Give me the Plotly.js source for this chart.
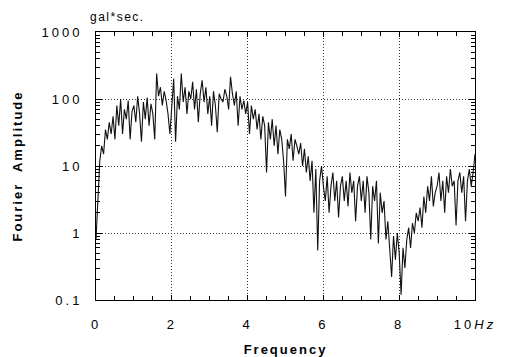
<!DOCTYPE html>
<html>
<head>
<meta charset="utf-8">
<script src="https://cdn.plot.ly/plotly-3.0.1.min.js"></script>
<style>
html,body{margin:0;padding:0;background:#fff;}
#chart{width:507px;height:357px;}
#chart .xtick text, #chart .ytick text{letter-spacing:3px;}
#chart text.xtitle, #chart text.ytitle{letter-spacing:2px;}
#chart .annotation-text{letter-spacing:1.5px;}
</style>
</head>
<body>
<div id="chart"></div>
<script>
// Frequency step of the read-off samples (Hz)
const freqStep = 0.05;
// Fourier amplitude (gal*sec), one value per 0.05 Hz from 0 to 10 Hz
const amplitude = [
  0.8, 4, 12, 20, 15, 35, 25, 45, 30, 55,
  25, 80, 40, 100, 30, 70, 50, 95, 25, 65,
  80, 45, 110, 60, 23, 90, 50, 105, 40, 85,
  60, 25, 240, 110, 150, 80, 130, 95, 60, 30,
  90, 200, 23, 110, 70, 240, 90, 150, 60, 130,
  100, 180, 70, 140, 45, 120, 190, 90, 150, 60,
  110, 40, 130, 80, 32, 120, 100, 90, 140, 110,
  70, 215, 120, 80, 130, 40, 110, 70, 95, 60,
  90, 30, 80, 50, 70, 35, 60, 25, 55, 40,
  8, 45, 25, 50, 20, 40, 15, 35, 25, 12,
  3.5, 25, 18, 30, 12, 25, 20, 15, 22, 10,
  18, 8, 14, 6, 12, 2, 9, 0.55, 6, 10,
  5, 3, 7, 2, 5, 8, 3, 6, 1.7, 5,
  7, 3, 6, 2.5, 8, 4, 6, 1.5, 5, 7,
  3, 6, 2, 7, 4, 0.8, 5, 3, 6, 0.7,
  4, 2, 3, 0.8, 1.5, 0.5, 0.22, 0.9, 0.4, 1,
  0.5, 0.12, 0.6, 0.3, 0.8, 1.2, 0.6, 1.4, 1, 2,
  1.5, 2.4, 1.2, 3.5, 2, 5, 3, 7, 2.5, 4,
  5, 8, 3, 6, 2, 7, 4, 9, 5, 6,
  1.3, 6, 8, 4, 7, 1.5, 6, 9, 5, 8,
  15
];
const frequency = amplitude.map((_, i) => +(i * freqStep).toFixed(2));

const xTickVals = [0, 2, 4, 6, 8, 10];
const xTickText = ['0', '2', '4', '6', '8', '10<i>Hz</i>'];
const yTickVals = [0.1, 1, 10, 100, 1000];
const yTickText = ['0.1', '1', '10', '100', '1000'];

const xMinor = [];
for (let v = 0.5; v < 10; v += 1) xMinor.push(+v.toFixed(2));
for (let v = 1; v < 10; v += 2) xMinor.push(v);
const yMinor = [];
[0.1, 1, 10, 100].forEach(d => { for (let k = 2; k <= 9; k++) yMinor.push(+(d * k).toPrecision(3)); });

const fam = '"Liberation Sans", Arial, sans-serif';

Plotly.newPlot('chart', [{
  x: frequency,
  y: amplitude,
  type: 'scatter',
  mode: 'lines',
  line: {color: '#111', width: 1.1},
  hoverinfo: 'skip'
}], {
  width: 507,
  height: 357,
  margin: {l: 96, r: 32, t: 32, b: 57},
  paper_bgcolor: '#fff',
  plot_bgcolor: '#fff',
  showlegend: false,
  font: {family: fam, size: 12, color: '#000'},
  xaxis: {
    range: [0, 10],
    tickmode: 'array',
    tickvals: xTickVals,
    ticktext: xTickText,
    ticks: 'inside',
    ticklen: 5,
    tickcolor: '#000',
    ticklabelstandoff: 12,
    showline: true,
    linecolor: '#000',
    linewidth: 1,
    mirror: 'ticks',
    showgrid: true,
    gridcolor: '#333',
    griddash: '1px,2px',
    gridwidth: 1,
    zeroline: false,
    minor: {tickmode: 'array', tickvals: xMinor, ticks: 'inside', ticklen: 4, tickcolor: '#000', showgrid: false},
    tickfont: {family: fam, size: 13, color: '#000'},
    title: {text: '<b>Frequency</b>', font: {family: fam, size: 13, color: '#000'}, standoff: 14}
  },
  yaxis: {
    type: 'log',
    range: [-1, 3],
    tickmode: 'array',
    tickvals: yTickVals,
    ticktext: yTickText,
    ticks: 'inside',
    ticklen: 6,
    tickcolor: '#000',
    ticklabelstandoff: 10,
    showline: true,
    linecolor: '#000',
    linewidth: 1,
    mirror: 'ticks',
    showgrid: true,
    gridcolor: '#333',
    griddash: '1px,2px',
    gridwidth: 1,
    zeroline: false,
    minor: {tickmode: 'array', tickvals: yMinor, ticks: 'inside', ticklen: 4, tickcolor: '#000', showgrid: false},
    tickfont: {family: fam, size: 13, color: '#000'},
    title: {text: '<b>Fourier  Amplitude</b>', font: {family: fam, size: 13, color: '#000'}, standoff: 27}
  },
  annotations: [{
    text: 'gal*sec.',
    xref: 'paper', yref: 'paper',
    x: 0, y: 1, xanchor: 'left', yanchor: 'bottom',
    yshift: 6, xshift: -2,
    showarrow: false,
    font: {family: fam, size: 12, color: '#000'}
  }]
}, {displayModeBar: false, staticPlot: true});
</script>
</body>
</html>
